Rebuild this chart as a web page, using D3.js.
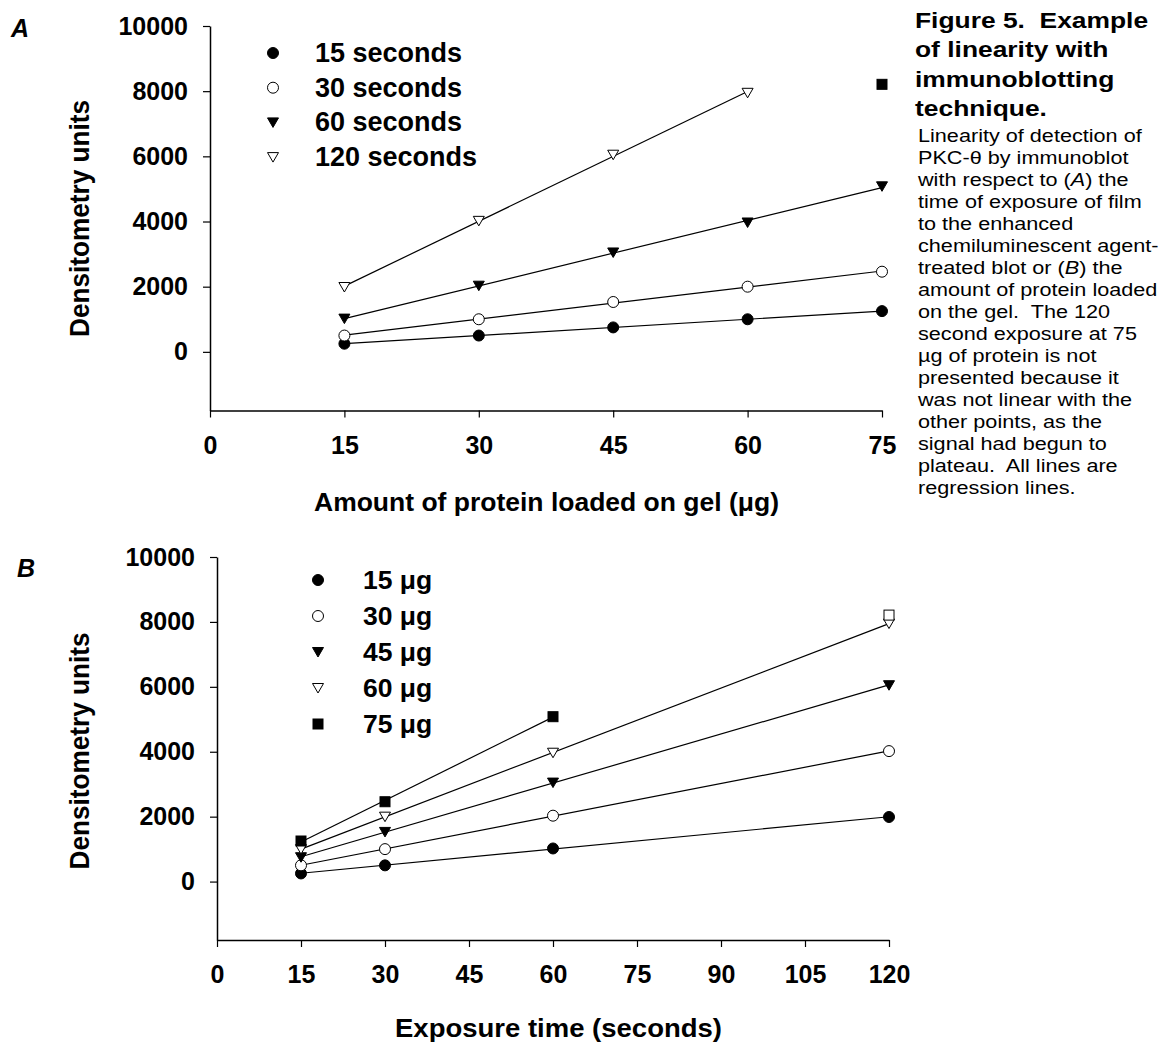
<!DOCTYPE html>
<html>
<head>
<meta charset="utf-8">
<script src="https://d3js.org/d3.v7.min.js"></script>
<style>
  body { margin: 0; background: #fff; }
  svg text { font-family: "Liberation Sans", Arial, sans-serif; fill: #000; }
</style>
</head>
<body>
<script>
// protein loads (µg) and film exposure times (s)
var proteinLoads = [15, 30, 45, 60, 75];
var exposureTimes = [15, 30, 60, 120];
var timeLabels = ["15 seconds", "30 seconds", "60 seconds", "120 seconds"];
var proteinLabels = ["15 \u03bcg", "30 \u03bcg", "45 \u03bcg", "60 \u03bcg", "75 \u03bcg"];

// densitometry units, one array per exposure time, across protein loads
var sec15 = [250, 500, 750, 1000, 1250];
var sec30 = [500, 1000, 1530, 2000, 2460];
var sec60 = [1020, 2030, 3050, 3970, 5080];
var sec120 = [1990, 4020, 6050, 7950, null];
// 120 s at 75 µg, plateaued, left out of the fits
var plateauPoint = {protein: 75, time: 120, value: 8210};

var yTicks = [0, 2000, 4000, 6000, 8000, 10000];
var xTicksA = [0, 15, 30, 45, 60, 75];
var xTicksB = [0, 15, 30, 45, 60, 75, 90, 105, 120];

var timeSymbols = ["dot", "circle", "tri", "otri"];
var proteinSymbols = ["dot", "circle", "tri", "otri", "square"];

var rows = [sec15, sec30, sec60, sec120];

var svg = d3.select("body").append("svg")
    .attr("width", 1159)
    .attr("height", 1044);

function marker(g, sym, cx, cy) {
    var m;
    if (sym == "dot" || sym == "circle") {
        m = g.append("circle").attr("cx", cx).attr("cy", cy).attr("r", 5.5);
    } else if (sym == "tri" || sym == "otri") {
        m = g.append("path")
            .attr("d", "M-5.5,-4.5L5.5,-4.5L0,5Z")
            .attr("transform", "translate(" + cx + "," + cy + ")");
    } else {
        m = g.append("rect").attr("x", cx - 5).attr("y", cy - 5)
            .attr("width", 10).attr("height", 10);
    }
    var open = (sym == "circle" || sym == "otri" || sym == "osquare");
    m.attr("fill", open ? "#fff" : "#000")
     .attr("stroke", "#000")
     .attr("stroke-width", 1);
}

function fit(pts) {
    var mx = d3.mean(pts, function(d) { return d[0]; });
    var my = d3.mean(pts, function(d) { return d[1]; });
    var sxy = d3.sum(pts, function(d) { return (d[0] - mx) * (d[1] - my); });
    var sxx = d3.sum(pts, function(d) { return (d[0] - mx) * (d[0] - mx); });
    var b = sxy / sxx, a = my - b * mx;
    var x0 = d3.min(pts, function(d) { return d[0]; });
    var x1 = d3.max(pts, function(d) { return d[0]; });
    return [[x0, a + b * x0], [x1, a + b * x1]];
}

function panel(p) {
    var g = svg.append("g");
    var x = d3.scaleLinear().domain(p.xDomain).range(p.xRange);
    var y = d3.scaleLinear().domain([-1800, 10000]).range(p.yRange);

    var yAxis = g.append("g")
        .attr("transform", "translate(" + p.xRange[0] + ",0)")
        .call(d3.axisLeft(y).tickValues(yTicks).tickFormat(d3.format("d"))
            .tickSize(7).tickSizeOuter(0).tickPadding(15));
    var xAxis = g.append("g")
        .attr("transform", "translate(0," + p.yRange[0] + ")")
        .call(d3.axisBottom(x).tickValues(p.xTicks).tickSize(7).tickSizeOuter(0));

    [yAxis, xAxis].forEach(function(a) {
        a.select(".domain").attr("stroke-width", 1.5);
        a.selectAll(".tick line").attr("stroke-width", 1.2);
        a.selectAll("text").style("font-size", "25px").style("font-weight", "bold");
    });
    xAxis.selectAll("text").attr("dy", null).attr("y", 43);

    g.append("text")
        .attr("transform", "translate(89," + p.yTitle + ") rotate(-90)")
        .attr("text-anchor", "middle")
        .attr("textLength", 237).attr("lengthAdjust", "spacingAndGlyphs")
        .style("font-size", "27px").style("font-weight", "bold")
        .text("Densitometry units");

    g.append("text")
        .attr("x", p.xTitlePos[0])
        .attr("y", p.xTitlePos[1])
        .attr("text-anchor", "middle")
        .attr("textLength", p.xTitleLen).attr("lengthAdjust", "spacingAndGlyphs")
        .style("font-size", "25px").style("font-weight", "bold")
        .text(p.xTitle);

    g.append("text")
        .attr("x", p.letterPos[0]).attr("y", p.letterPos[1])
        .style("font-size", "25px").style("font-weight", "bold").style("font-style", "italic")
        .text(p.letter);

    var line = d3.line()
        .x(function(d) { return x(d[0]); })
        .y(function(d) { return y(d[1]); });

    p.series.forEach(function(s) {
        g.append("path")
            .attr("d", line(fit(s.pts)))
            .attr("fill", "none")
            .attr("stroke", "#000")
            .attr("stroke-width", 1.2);
    });
    p.series.forEach(function(s) {
        s.pts.forEach(function(d) { marker(g, s.sym, x(d[0]), y(d[1])); });
    });
    marker(g, p.extra.sym, x(p.extra.pt[0]), y(p.extra.pt[1]));

    // legend
    p.series.forEach(function(s, i) {
        var ly = p.legend.y + i * p.legend.step;
        marker(g, s.sym, p.legend.x, ly);
        g.append("text")
            .attr("x", p.legend.x + p.legend.gap)
            .attr("y", ly + 9)
            .style("font-size", p.legend.size).style("font-weight", "bold")
            .text(s.label);
    });
}

// panel A: one series per exposure time against protein load
var seriesA = rows.map(function(r, i) {
    return {
        label: timeLabels[i],
        sym: timeSymbols[i],
        pts: proteinLoads.map(function(p, j) { return [p, r[j]]; })
                         .filter(function(d) { return d[1] != null; })
    };
});

// panel B: one series per protein load against exposure time
var seriesB = proteinLoads.map(function(p, j) {
    return {
        label: proteinLabels[j],
        sym: proteinSymbols[j],
        pts: exposureTimes.map(function(t, i) { return [t, rows[i][j]]; })
                          .filter(function(d) { return d[1] != null; })
    };
});

panel({
    xDomain: [0, 75], xRange: [210, 882], yRange: [410.5, 26],
    xTicks: xTicksA, yTitle: 218.5,
    xTitle: "Amount of protein loaded on gel (\u03bcg)", xTitlePos: [546.5, 511], xTitleLen: 465,
    letter: "A", letterPos: [11, 37],
    series: seriesA,
    extra: {sym: "square", pt: [plateauPoint.protein, plateauPoint.value]},
    legend: {x: 273, y: 53, step: 34.7, gap: 42, size: "27px"}
});

panel({
    xDomain: [0, 120], xRange: [217, 889], yRange: [940, 557],
    xTicks: xTicksB, yTitle: 751,
    xTitle: "Exposure time (seconds)", xTitlePos: [558.5, 1037], xTitleLen: 327,
    letter: "B", letterPos: [17, 577],
    series: seriesB,
    extra: {sym: "osquare", pt: [plateauPoint.time, plateauPoint.value]},
    legend: {x: 318, y: 580, step: 36, gap: 45, size: "26.5px"}
});

// caption
var titleLines = ["Figure 5.  Example", "of linearity with", "immunoblotting", "technique."];
var bodyLines = [
    ["Linearity of detection of"],
    ["PKC-\u03b8 by immunoblot"],
    ["with respect to (", "A", ") the"],
    ["time of exposure of film"],
    ["to the enhanced"],
    ["chemiluminescent agent-"],
    ["treated blot or (", "B", ") the"],
    ["amount of protein loaded"],
    ["on the gel.  The 120"],
    ["second exposure at 75"],
    ["\u00b5g of protein is not"],
    ["presented because it"],
    ["was not linear with the"],
    ["other points, as the"],
    ["signal had begun to"],
    ["plateau.  All lines are"],
    ["regression lines."]
];

var capTitle = svg.append("g").attr("transform", "translate(915,0) scale(1.2,1)");
titleLines.forEach(function(t, i) {
    capTitle.append("text")
        .attr("x", 0).attr("y", 28 + i * 29.5)
        .style("font-size", "22px").style("font-weight", "bold")
        .style("white-space", "pre")
        .text(t);
});
var capBody = svg.append("g").attr("transform", "translate(918,0) scale(1.17,1)");
bodyLines.forEach(function(parts, i) {
    var t = capBody.append("text")
        .attr("x", 0).attr("y", 141.7 + i * 22)
        .style("font-size", "18.5px")
        .style("white-space", "pre");
    parts.forEach(function(s, k) {
        t.append("tspan").style("font-style", k == 1 ? "italic" : "normal").text(s);
    });
});
</script>
</body>
</html>
